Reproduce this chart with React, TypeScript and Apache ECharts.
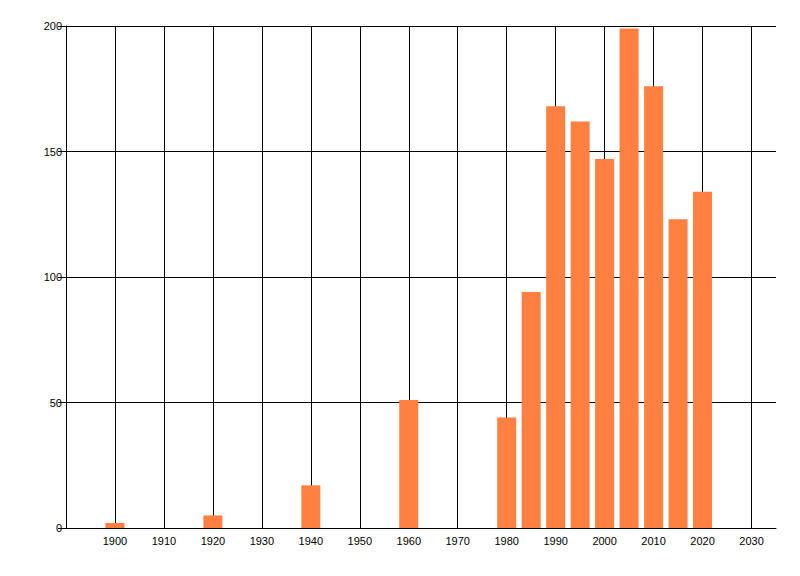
import React, { useEffect, useRef } from "react";
import * as echarts from "echarts";

const years = [1900, 1920, 1940, 1960, 1980, 1985, 1990, 1995, 2000, 2005, 2010, 2015, 2020];
const counts = [2, 5, 17, 51, 44, 94, 168, 162, 147, 199, 176, 123, 134];
const yTicks = { min: 0, max: 200, interval: 50 };
const xRange = { min: 1890, max: 2035, interval: 10, firstLabel: 1900, lastLabel: 2030 };

export default function App() {
  const ref = useRef<HTMLDivElement>(null);
  useEffect(() => {
    if (!ref.current) return;
    const chart = echarts.init(ref.current, undefined, { renderer: "svg" });
    const font = "Liberation Sans";
    chart.setOption({
      animation: false,
      backgroundColor: "#ffffff",
      grid: { left: 66, top: 26, right: 24, bottom: 48, containLabel: false },
      xAxis: {
        type: "value",
        min: xRange.min,
        max: xRange.max,
        interval: xRange.interval,
        axisLine: { show: true, onZero: false, lineStyle: { color: "#000", width: 1 } },
        axisTick: { show: false },
        axisLabel: {
          color: "#000",
          fontFamily: font,
          fontSize: 11,
          margin: 7,
          showMinLabel: false,
          showMaxLabel: false,
          formatter: (v: number) => (v >= xRange.firstLabel && v <= xRange.lastLabel ? String(v) : ""),
        },
        splitLine: { show: true, showMinLine: false, showMaxLine: false, lineStyle: { color: "#000", width: 1 } },
      },
      yAxis: {
        type: "value",
        min: yTicks.min,
        max: yTicks.max,
        interval: yTicks.interval,
        axisLine: { show: true, lineStyle: { color: "#000", width: 1 } },
        axisTick: { show: true, length: 8, lineStyle: { color: "#000" } },
        axisLabel: { color: "#000", fontFamily: font, fontSize: 11, margin: 4 },
        splitLine: { show: true, lineStyle: { color: "#000", width: 1 } },
      },
      series: [
        {
          type: "bar",
          data: years.map((y, i) => [y, counts[i]]),
          barWidth: 19,
          itemStyle: { color: "#FF8040" },
        },
      ],
    });
    return () => chart.dispose();
  }, []);
  return (
    <div
      ref={ref}
      style={{ position: "fixed", left: 0, top: 0, width: 800, height: 576 }}
    />
  );
}
